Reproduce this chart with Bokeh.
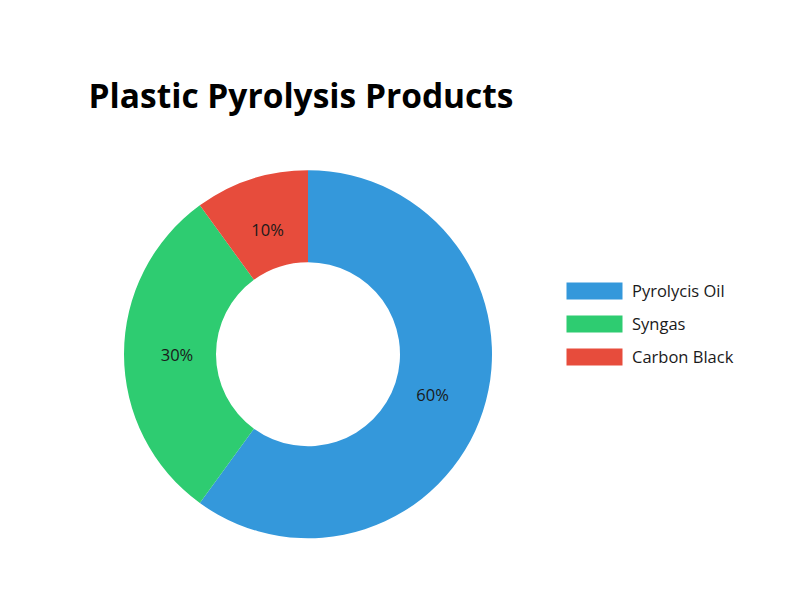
import math
from bokeh.plotting import figure
from bokeh.models import Range1d, Label, Legend, LegendItem
from bokeh.core.properties import value
from bokeh.embed import file_html
from bokeh.resources import INLINE

title_text = "Plastic Pyrolysis Products"
categories = ["Pyrolycis Oil", "Syngas", "Carbon Black"]
shares = [60, 30, 10]
colors = ["#3498db", "#2ecc71", "#e74c3c"]

W, H = 784, 584
p = figure(width=W, height=H, output_backend="svg", toolbar_location=None,
           x_range=Range1d(0, W), y_range=Range1d(0, H),
           min_border=0, outline_line_color=None)
p.axis.visible = False
p.grid.visible = False

cx, cy = 307.5, H - 353.7
r_in, r_out = 92, 184

total = sum(shares)
starts, ends, mids = [], [], []
a = math.pi / 2
for s in shares:
    da = 2 * math.pi * s / total
    starts.append(a)
    ends.append(a - da)
    mids.append(a - da / 2)
    a -= da

items = []
for i in range(len(shares)):
    r = p.annular_wedge(x=cx, y=cy, inner_radius=r_in, outer_radius=r_out,
                        start_angle=starts[i], end_angle=ends[i], direction="clock",
                        fill_color=colors[i], line_color=None)
    items.append(LegendItem(label=categories[i], renderers=[r]))

lr = 131
lx = [cx + lr * math.cos(m) for m in mids]
ly = [cy + lr * math.sin(m) for m in mids]
lt = [f"{s}%" for s in shares]
p.text(x=lx, y=ly, text=lt, text_align="center", text_baseline="middle",
       text_font=value("Open Sans"), text_font_size="16.5px", text_color="#1a1a1a")

title = Label(x=88, y=H - 94, x_units="screen", y_units="screen", text=title_text,
              text_font="Open Sans", text_font_style="bold", text_font_size="33.5px",
              text_color="#000000", text_baseline="alphabetic")
p.add_layout(title)

legend = Legend(items=items, location=(559, H - 368), glyph_width=70, glyph_height=21,
                label_height=21, spacing=10, label_standoff=3, padding=0, margin=0,
                border_line_color=None, background_fill_alpha=0,
                label_text_font="Open Sans", label_text_font_size="16.5px",
                label_text_color="#1a1a1a")
p.add_layout(legend, "center")

open("out.html", "w").write(file_html(p, INLINE))
